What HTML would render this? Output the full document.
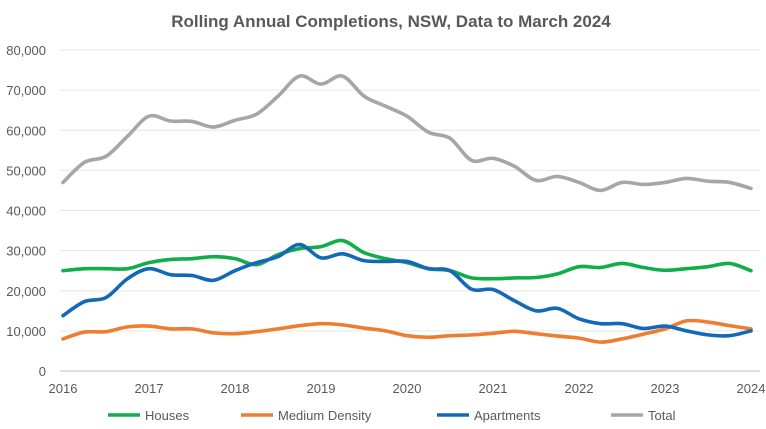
<!DOCTYPE html>
<html><head><meta charset="utf-8"><style>
body{margin:0;background:#fff;}
svg{display:block;font-family:"Liberation Sans",sans-serif;}
</style></head><body>
<svg id="s" width="766" height="429" viewBox="0 0 766 429">
<text x="391" y="27" text-anchor="middle" font-size="17" font-weight="bold" fill="#595959">Rolling Annual Completions,  NSW, Data to March 2024</text>
<g id="grid"></g>
<g id="lines" fill="none" stroke-width="3.6" stroke-linejoin="round" stroke-linecap="round"></g>
<g font-size="13" fill="#595959">
<line x1="108" y1="415" x2="140" y2="415" stroke="#12ad4b" stroke-width="3.6"/><text x="145" y="420">Houses</text>
<line x1="241" y1="415" x2="273" y2="415" stroke="#ed7d31" stroke-width="3.6"/><text x="278" y="420">Medium Density</text>
<line x1="437" y1="415" x2="469" y2="415" stroke="#1468b8" stroke-width="3.6"/><text x="474" y="420">Apartments</text>
<line x1="611" y1="415" x2="643" y2="415" stroke="#a6a6a6" stroke-width="3.6"/><text x="648" y="420">Total</text>
</g>
</svg>
<script>
var NS="http://www.w3.org/2000/svg";
function Y(v){return 371-v*321/80000;}
function X(i){return 63+i*21.5;}
var g=document.getElementById("grid");
for(var k=0;k<=8;k++){var y=Y(k*10000);
 var l=document.createElementNS(NS,"line");l.setAttribute("x1",60);l.setAttribute("x2",760);l.setAttribute("y1",y);l.setAttribute("y2",y);
 l.setAttribute("stroke",k==0?"#bfbfbf":"#e6e6e6");l.setAttribute("stroke-width",1);g.appendChild(l);
 var t=document.createElementNS(NS,"text");t.setAttribute("x",46);t.setAttribute("y",y+5);t.setAttribute("text-anchor","end");t.setAttribute("font-size","13");t.setAttribute("fill","#595959");
 t.textContent=k==0?"0":(k*10)+",000";g.appendChild(t);}
for(var yr=0;yr<=8;yr++){var x=63+yr*86;
 var t=document.createElementNS(NS,"text");t.setAttribute("x",x);t.setAttribute("y",393);t.setAttribute("text-anchor","middle");t.setAttribute("font-size","13");t.setAttribute("fill","#595959");t.textContent=2016+yr;g.appendChild(t);}
var data={
"#a6a6a6":[47000,52000,53500,58500,63500,62300,62200,60800,62500,64000,68500,73500,71500,73500,68500,66000,63500,59500,58000,52500,53000,51000,47500,48500,47000,45000,47000,46500,47000,48000,47300,47000,45500],
"#12ad4b":[25000,25500,25500,25500,27000,27800,28000,28500,28000,26500,29000,30500,31000,32500,29500,28000,27000,25500,25000,23200,23000,23200,23300,24200,26000,25800,26800,25800,25100,25500,26000,26800,25000],
"#ed7d31":[8000,9700,9800,11000,11200,10500,10500,9500,9300,9800,10500,11300,11800,11500,10700,10000,8800,8400,8800,9000,9400,9900,9300,8700,8200,7200,8000,9200,10500,12500,12200,11300,10500],
"#1468b8":[13800,17300,18300,23000,25500,24000,23800,22600,25000,27000,28500,31500,28200,29200,27500,27300,27300,25500,25000,20400,20300,17500,15000,15600,13000,11800,11800,10600,11200,10000,9000,8800,10000]};
var L=document.getElementById("lines");
["#12ad4b","#ed7d31","#1468b8","#a6a6a6"].forEach(function(c){
 var d=data[c],p=d.map(function(v,i){return [X(i),Y(v)];});
 var s="M"+p[0][0]+","+p[0][1];
 for(var i=0;i<p.length-1;i++){var p0=p[Math.max(i-1,0)],p1=p[i],p2=p[i+1],p3=p[Math.min(i+2,p.length-1)];
  var c1=[p1[0]+(p2[0]-p0[0])/6,p1[1]+(p2[1]-p0[1])/6],c2=[p2[0]-(p3[0]-p1[0])/6,p2[1]-(p3[1]-p1[1])/6];
  s+=" C"+c1+" "+c2+" "+p2;}
 var e=document.createElementNS(NS,"path");e.setAttribute("d",s);e.setAttribute("stroke",c);L.appendChild(e);});
</script>
</body></html>
